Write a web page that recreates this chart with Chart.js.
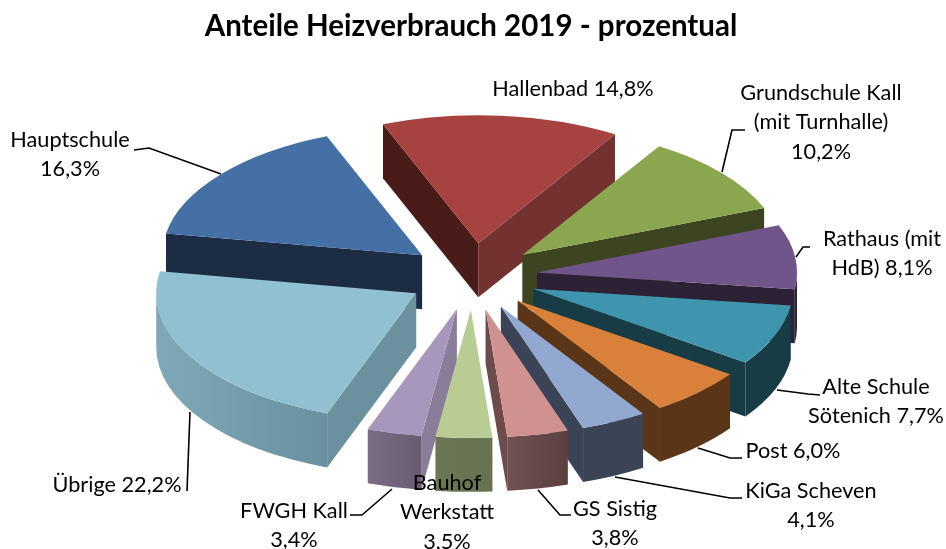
<!DOCTYPE html>
<html>
<head>
<meta charset="utf-8">
<title>Anteile Heizverbrauch 2019</title>
<script src="https://cdn.jsdelivr.net/npm/chart.js@4"></script>
<style>
  html, body { margin: 0; padding: 0; background: #fff; }
  canvas { display: block; }
</style>
</head>
<body>
<canvas id="heatChart" width="946" height="549"></canvas>
<script>
const chartTitle = "Anteile Heizverbrauch 2019 - prozentual";

const categories = ["Hallenbad","Grundschule Kall (mit Turnhalle)","Rathaus (mit HdB)","Alte Schule Sötenich","Post","KiGa Scheven","GS Sistig","Bauhof Werkstatt","FWGH Kall","Übrige","Hauptschule"];
const shares = [14.8,10.2,8.1,7.7,6.0,4.1,3.8,3.5,3.4,22.2,16.3];

const labelLines = [
  ["Hallenbad 14,8%"],
  ["Grundschule Kall","(mit Turnhalle)","10,2%"],
  ["Rathaus (mit","HdB) 8,1%"],
  ["Alte Schule","Sötenich 7,7%"],
  ["Post 6,0%"],
  ["KiGa Scheven","4,1%"],
  ["GS Sistig","3,8%"],
  ["Bauhof","Werkstatt","3,5%"],
  ["FWGH Kall","3,4%"],
  ["Übrige 22,2%"],
  ["Hauptschule","16,3%"]
];
const labelCenters = [[573,89],[821,93],[882,239],[876,387],[793,451],[811,491],[615,509],[447,483],[294,511],[117,485],[70,140]];
const leaders = [
  null,
  [[745,130],[732,130],[722,172]],
  [[810,247],[803,247],[796,257]],
  [[820,395],[808,394],[777,390]],
  [[742,458],[730,458],[698,448]],
  [[742,498],[730,498],[615,477]],
  [[571,515],[560,515],[538,490]],
  null,
  [[350,515],[362,515],[392,489]],
  [[187,491],[190,412]],
  [[134,150],[149,148],[221,174]]
];

const topColors = ["#A64340","#8AA64E","#70558B","#3F95AE","#D9803B","#91A8D0","#D09291","#B9CC94","#A797BC","#90C0D2","#4570A5"];
const startWallColors = ["#4A1C19","#3D4420","#2D2136","#173C46","#5A3517","#3B4457","#6D4B4B","#6A7654","#8A7D99","#6B919F","#1B2C44"];
const endWallColors = ["#733130","#3D4420","#2D2136","#173C46","#5A3517","#3B4457","#6D4B4B","#6A7654","#8A7D99","#6B919F","#1B2C44"];
const rimLeftColors = ["#733130","#3D4420","#2D2136","#173C46","#5A3517","#3B4457","#725252","#6A7654","#7B6D85","#7FA9B9","#1B2C44"];
const rimRightColors = ["#733130","#3D4420","#2D2136","#173C46","#5A3517","#3B4457","#5C3F3F","#667250","#685C70","#68909F","#1B2C44"];

const ROTATION = -21.5;
const RADIUS = 260;
const SQUASH = 0.492;
const EXPLODE_X = 65;
const EXPLODE_Y = 68;
const DEPTH = 54;
const CENTER_X = 472.5;
const CENTER_Y = 276.5;

const pie3d = {
  id: "pie3d",
  beforeDatasetsDraw(chart) {
    const ctx = chart.ctx;
    const area = chart.chartArea;
    const cx = (area.left + area.right) / 2;
    const cy = (area.top + area.bottom) / 2;
    const arcs = chart.getDatasetMeta(0).data;

    // push each slice out along its middle angle
    arcs.forEach(arc => {
      const mid = (arc.startAngle + arc.endAngle) / 2;
      arc.x = cx + Math.cos(mid) * EXPLODE_X;
      arc.y = cy + Math.sin(mid) * EXPLODE_Y;
    });

    const order = arcs.map((arc, i) => i).sort((a, b) => arcs[a].y - arcs[b].y);
    order.forEach(i => {
      const arc = arcs[i];
      const ax = CENTER_X + arc.x - cx;
      const ay = CENTER_Y + (arc.y - cy) * SQUASH;
      const sideFace = (angle, color) => {
        const ex = ax + Math.cos(angle) * RADIUS;
        const ey = ay + Math.sin(angle) * RADIUS * SQUASH;
        ctx.fillStyle = color;
        ctx.beginPath();
        ctx.moveTo(ax, ay);
        ctx.lineTo(ex, ey);
        ctx.lineTo(ex, ey + DEPTH);
        ctx.lineTo(ax, ay + DEPTH);
        ctx.closePath();
        ctx.fill();
      };
      if (Math.cos(arc.startAngle) < 0) sideFace(arc.startAngle, startWallColors[i]);
      if (Math.cos(arc.endAngle) > 0) sideFace(arc.endAngle, endWallColors[i]);

      // outer rim, only the front half of the ellipse shows
      [0, Math.PI * 2].forEach(turn => {
        const a0 = Math.max(arc.startAngle, turn);
        const a1 = Math.min(arc.endAngle, turn + Math.PI);
        if (a1 <= a0) return;
        const x0 = ax + Math.cos(a0) * RADIUS;
        const x1 = ax + Math.cos(a1) * RADIUS;
        const grad = ctx.createLinearGradient(x1, 0, x0, 0);
        grad.addColorStop(0, rimLeftColors[i]);
        grad.addColorStop(1, rimRightColors[i]);
        ctx.fillStyle = grad;
        ctx.beginPath();
        ctx.ellipse(ax, ay, RADIUS, RADIUS * SQUASH, 0, a0, a1);
        ctx.ellipse(ax, ay + DEPTH, RADIUS, RADIUS * SQUASH, 0, a1, a0, true);
        ctx.closePath();
        ctx.fill();
      });
    });

    // tops are painted by the library, in the squashed plane
    ctx.save();
    ctx.translate(CENTER_X, CENTER_Y);
    ctx.scale(1, SQUASH);
    ctx.translate(-cx, -cy);
  },
  afterDatasetsDraw(chart) {
    const ctx = chart.ctx;
    ctx.restore();

    ctx.strokeStyle = "#000";
    ctx.lineWidth = 1.6;
    leaders.forEach(pts => {
      if (!pts) return;
      ctx.beginPath();
      pts.forEach((p, k) => k ? ctx.lineTo(p[0], p[1]) : ctx.moveTo(p[0], p[1]));
      ctx.stroke();
    });

    ctx.fillStyle = "#000";
    ctx.font = "21.7px Lato";
    ctx.textAlign = "center";
    ctx.textBaseline = "middle";
    labelLines.forEach((lines, i) => {
      lines.forEach((line, k) => {
        ctx.fillText(line, labelCenters[i][0], labelCenters[i][1] + k * 29.3);
      });
    });
  }
};

new Chart(document.getElementById("heatChart"), {
  type: "pie",
  data: {
    labels: categories,
    datasets: [{
      data: shares,
      backgroundColor: topColors,
      borderWidth: 0,
      clip: false
    }]
  },
  options: {
    responsive: false,
    animation: false,
    rotation: ROTATION,
    radius: RADIUS,
    layout: { padding: { right: 4 } },
    plugins: {
      legend: { display: false },
      tooltip: { enabled: false },
      title: {
        display: true,
        text: chartTitle,
        color: "#000",
        font: { family: "Lato", size: 29.5, weight: "bold" },
        padding: { top: 9, bottom: 10 }
      }
    }
  },
  plugins: [pie3d]
});
</script>
</body>
</html>
